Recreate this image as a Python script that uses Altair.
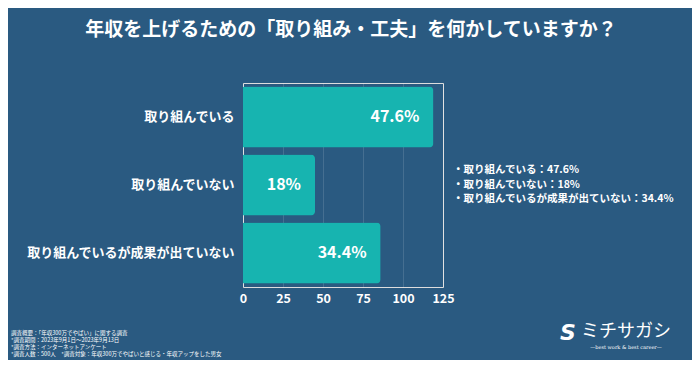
import altair as alt
import pandas as pd

# ---- data ----
categories = ["取り組んでいる", "取り組んでいない", "取り組んでいるが成果が出ていない"]
bar_values = [119, 45, 86]
pct_labels = ["47.6%", "18%", "34.4%"]
x_ticks = [0, 25, 50, 75, 100, 125]
title_text = "年収を上げるための「取り組み・工夫」を何かしていますか？"
footer_lines = [
    "調査概要：「年収300万でやばい」に関する調査",
    "*調査期間：2023年9月1日～2023年9月13日",
    "*調査方法：インターネットアンケート",
    "*調査人数：500人　*調査対象：年収300万でやばいと感じる・年収アップをした男女",
]
logo_text = "ミチサガシ"
logo_sub = "—best work & best career—"

BG = "#2a5a81"
BAR = "#17b4b0"
FONT = "Noto Sans CJK JP"

df = pd.DataFrame({"cat": categories, "val": bar_values, "label": pct_labels})

x_enc = alt.X("val:Q", scale=alt.Scale(domain=[0, 125], nice=False),
              axis=alt.Axis(values=x_ticks, title=None, domain=False, ticks=False,
                            labelColor="white", labelFontSize=12.5, labelFontWeight="bold",
                            labelPadding=5, labelOverlap=False, labelFlush=False,
                            grid=True, gridColor="#ffffff",
                            gridOpacity=0.13, labelFont=FONT))
y_enc = alt.Y("cat:N", sort=categories,
              scale=alt.Scale(paddingInner=0.1, paddingOuter=0.05),
              axis=alt.Axis(title=None, domain=False, ticks=False, labelColor="white",
                            labelFontSize=13, labelFontWeight="bold", labelPadding=9,
                            labelLimit=400, labelFont=FONT))

base = alt.Chart(df)
bars = base.mark_bar(color=BAR, cornerRadiusEnd=4).encode(x=x_enc, y=y_enc)
bar_text = base.mark_text(align="right", baseline="middle", dx=-14, color="white",
                          fontSize=16, fontWeight="bold", font=FONT).encode(
    x=x_enc, y=y_enc, text="label:N")

one = alt.Data(values=[{}])

title = alt.Chart(one).mark_text(text=title_text, align="center", baseline="middle",
                                 color="white", fontSize=19, fontWeight="bold", font=FONT).encode(
    x=alt.value(108), y=alt.value(-53))

annot_lines = [f"・{c}：{p}" for c, p in zip(categories, pct_labels)]
annot = alt.Chart(one).mark_text(text="\n".join(annot_lines), lineBreak="\n", lineHeight=14.5,
                                 align="left", baseline="top", color="white", fontSize=10.5,
                                 fontWeight="bold", font=FONT).encode(
    x=alt.value(210), y=alt.value(82))

footer = alt.Chart(one).mark_text(text="\n".join(footer_lines), lineBreak="\n", lineHeight=7,
                                  align="left", baseline="top", color="white", fontSize=5.5,
                                  font=FONT).encode(
    x=alt.value(-232), y=alt.value(248))

logo = alt.Chart(one).mark_text(text=logo_text, align="center", baseline="middle",
                                color="white", fontSize=18, font=FONT).encode(
    x=alt.value(383), y=alt.value(249))
logo_s = alt.Chart(one).mark_text(text=logo_sub, align="center", baseline="middle",
                                  color="white", fontSize=5, font="DejaVu Serif").encode(
    x=alt.value(383), y=alt.value(264))
icon = alt.Chart(one).mark_text(text="S", align="center", baseline="middle",
                                color="white", fontSize=22, fontWeight="bold",
                                fontStyle="italic", font="DejaVu Sans").encode(
    x=alt.value(325), y=alt.value(250))

chart = alt.layer(bars, bar_text, title, annot, footer, logo, logo_s, icon).properties(
    width=200, height=204,
    autosize=alt.AutoSizeParams(type="none"),
    padding={"left": 235, "top": 75, "right": 249, "bottom": 73},
    background=BG,
).configure_view(stroke=None).configure(font=FONT)

chart.save("out.html", embed_options={"renderer": "svg", "actions": False})
